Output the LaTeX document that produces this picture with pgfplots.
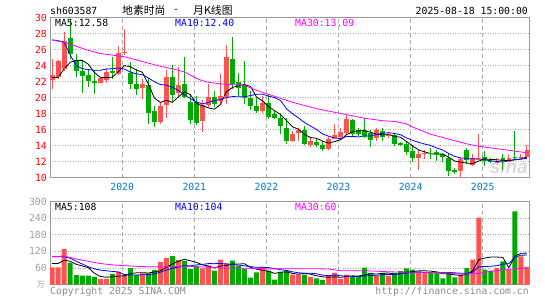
\documentclass[border=0pt]{standalone}
\usepackage{fontspec}
\usepackage{pgfplots}
\usepackage{pgfplotstable}
\pgfplotsset{compat=1.18}
\setmainfont{DejaVu Sans Mono}
\newfontfamily\cjk{Noto Sans CJK SC}
\newfontfamily\sinafont{Liberation Sans}

\definecolor{kred}{RGB}{255,82,82}
\definecolor{kgreen}{RGB}{0,170,0}
\definecolor{mablue}{RGB}{0,0,255}
\definecolor{mapink}{RGB}{255,0,255}
\definecolor{framec}{RGB}{153,153,153}
\definecolor{gridc}{RGB}{170,170,170}
\definecolor{yearc}{RGB}{0,122,204}
\definecolor{volc}{RGB}{160,160,160}
\newcommand\tf{\fontsize{9.8}{10}\selectfont}

% monthly candles, month 0 = 2019-01
\pgfplotstableread{
i O H L C
0 22.2 24.8 21.1 22.8
1 22.6 24.7 22.3 24.5
2 23.6 28.2 23.3 27.0
8 21.9 22.6 21.8 22.4
9 22.2 23.7 21.8 23.2
11 23.0 26.4 22.8 25.5
12 25.6 28.5 25.3 25.7
15 21.2 22.3 19.8 21.7
18 17.0 19.4 16.7 19.0
19 19.1 23.4 17.5 22.5
21 20.6 23.8 20.2 21.5
25 17.1 19.7 15.7 19.1
26 19.2 21.7 18.8 20.1
28 19.6 22.9 19.1 20.2
29 20.2 26.5 19.2 25.0
35 18.4 20.2 18.1 19.3
40 14.6 15.8 14.5 15.5
41 15.6 16.2 14.6 16.0
43 14.2 15.0 13.8 14.6
46 13.7 15.1 13.5 14.8
47 14.9 16.7 14.8 15.3
48 15.2 16.2 15.0 15.7
49 15.6 17.8 15.4 17.3
54 15.0 16.2 14.6 16.0
56 15.3 15.7 15.0 15.5
61 12.5 13.5 11.0 13.0
62 13.0 13.5 12.3 13.1
68 10.9 12.5 10.1 12.3
70 11.7 13.0 11.5 12.4
71 12.3 15.5 12.2 12.5
74 11.9 12.5 11.8 12.1
76 12.0 12.8 11.9 12.4
78 12.5 12.9 12.4 12.6
79 12.6 14.1 12.5 13.4
}\redk

\pgfplotstableread{
i O H L C
3 27.4 29.8 24.8 25.5
4 24.7 25.4 22.5 23.4
5 23.3 24.5 20.6 22.8
6 22.8 23.5 21.3 22.1
7 22.0 23.4 20.4 21.9
10 23.3 25.0 22.3 23.1
13 23.1 24.4 21.0 21.8
14 21.7 23.6 20.3 21.1
16 21.5 22.4 16.7 18.1
17 18.3 18.9 16.3 17.0
20 22.6 24.0 19.6 20.4
22 21.7 25.0 19.9 20.1
23 19.4 20.4 16.7 17.3
24 19.4 20.2 16.6 16.9
27 20.1 20.8 18.8 19.3
30 24.8 27.5 21.0 21.7
31 21.9 23.1 20.2 21.2
32 21.5 24.5 19.2 20.0
33 20.0 20.8 18.4 19.0
34 19.0 20.0 18.1 18.4
36 19.3 20.4 17.3 17.6
37 17.9 18.4 17.3 17.5
38 17.5 18.1 15.4 16.5
39 16.2 17.5 14.2 14.6
42 16.0 16.4 14.1 14.3
44 14.5 14.9 13.8 14.1
45 14.1 14.6 13.3 13.7
50 17.2 17.3 15.2 15.5
51 15.9 16.2 15.2 15.5
52 16.0 17.5 15.0 15.2
53 15.6 16.0 13.8 14.8
55 15.8 16.2 14.6 15.2
57 15.3 15.6 14.0 14.3
58 14.3 14.4 13.9 14.1
59 14.2 14.4 12.8 13.3
60 13.3 14.0 12.0 12.5
63 13.1 13.7 12.3 13.0
64 13.2 13.5 12.1 12.9
65 12.9 13.1 11.9 12.7
66 12.5 13.1 10.2 10.9
67 10.9 11.2 10.4 10.8
69 13.5 13.7 11.7 12.3
72 12.6 13.3 11.5 12.1
73 12.1 12.5 11.8 12.0
75 12.4 12.9 11.0 12.0
77 12.6 15.8 12.2 12.5
}\greenk

% price MA5 (a) and MA10 (b)
\pgfplotstableread{
i a b
0 22.5 27.2
1 22.5 27.1
2 23.6 26.9
3 24.4 25.3
4 24.64 24.0
5 24.64 23.6
6 24.16 23.5
7 23.14 23.4
8 22.52 23.4
9 22.48 23.56
10 22.54 23.59
11 23.22 23.69
12 23.98 23.56
13 23.86 23.19
14 23.44 22.96
15 23.16 22.85
16 21.68 22.45
17 19.94 21.96
18 19.38 21.62
19 19.66 21.55
20 19.40 21.28
21 20.08 20.88
22 20.70 20.32
23 20.36 19.87
24 19.24 19.45
25 18.98 19.19
26 18.70 19.39
27 18.54 19.62
28 19.12 19.74
29 20.74 19.99
30 21.26 20.12
31 21.48 20.09
32 21.62 20.08
33 21.38 20.25
34 20.06 20.40
35 19.58 20.42
36 18.86 20.17
37 18.36 19.99
38 17.86 19.62
39 17.10 18.58
40 16.34 17.96
41 16.02 17.44
42 15.38 16.87
43 15.00 16.43
44 14.90 16.00
45 14.54 15.44
46 14.30 15.16
47 14.50 14.94
48 14.72 14.86
49 15.36 15.13
50 15.72 15.13
51 15.86 15.08
52 15.84 15.17
53 15.66 15.19
54 15.40 15.38
55 15.34 15.53
56 15.34 15.60
57 15.16 15.50
58 15.02 15.34
59 14.48 14.94
60 13.94 14.64
61 13.44 14.39
62 13.20 14.18
63 12.98 14.00
64 12.90 13.69
65 12.94 13.44
66 12.52 12.98
67 12.06 12.63
68 11.92 12.45
69 11.80 12.35
70 11.74 12.34
71 12.06 12.29
72 12.32 12.19
73 12.26 12.09
74 12.22 12.01
75 12.14 11.94
76 12.12 12.09
77 12.20 12.26
78 12.32 12.29
79 12.58 12.40
}\mapx

% price MA30
\pgfplotstableread{
i c
0 27.2
2 26.9
4 26.4
6 25.9
8 25.5
10 25.3
12 25.1
14 24.7
16 24.3
18 23.9
20 23.6
21 23.4
22 23.2
23 22.8
24 22.4
25 22.1
26 21.9
28 21.7
30 21.6
32 21.5
34 20.9
36 20.4
38 19.9
40 19.4
42 19.0
44 18.6
46 18.3
48 18.0
50 17.7
52 17.4
53 17.3
55 17.1
57 17.0
59 16.7
60 16.3
61 16.0
63 15.4
65 15.0
67 14.6
69 14.2
71 13.9
73 13.7
75 13.5
77 13.3
79 13.09
}\mapy

% volume (10k shares)
\pgfplotstableread{
i v
0 62
1 62
2 128
8 20
9 20
11 45
12 34
15 40
18 81
19 96
21 89
25 58
26 68
28 90
29 76
35 64
40 36
41 36
43 28
46 30
47 42
48 20
49 36
54 30
56 32
61 44
62 44
68 32
70 90
71 242
74 60
76 54
78 102
79 64
}\redv

\pgfplotstableread{
i v
3 79
4 34
5 32
6 32
7 28
10 38
13 60
14 34
16 40
17 52
20 103
22 85
23 56
24 67
27 50
30 86
31 68
32 56
33 25
34 44
36 50
37 18
38 46
39 50
42 36
44 22
45 16
50 28
51 28
52 61
53 42
55 42
57 42
58 48
59 58
60 54
63 42
64 42
65 22
66 42
67 26
69 60
72 54
73 50
75 84
77 264
}\greenv

\pgfplotstableread{
i a b
0 76 100
1 76 100
2 88 100
3 84 95
4 73 84
5 67 74
6 61 64
7 41 57
8 29.2 52
9 26.4 49.7
10 27.6 47.3
11 30.2 45.6
12 31.4 36.2
13 39.4 34.3
14 42.2 34.3
15 42.6 35.1
16 41.6 35.9
17 45.2 38.3
18 49.4 44.4
19 61.8 52
20 74.4 58.5
21 84.2 62.9
22 90.8 68
23 85.8 67.6
24 80 70.9
25 71 72.7
26 66.8 75.5
27 59.8 75.3
28 66.6 76.2
29 68.4 74.2
30 74 72.5
31 74 70.4
32 75.2 67.5
33 62.2 64.4
34 55.8 62.1
35 51.4 62.7
36 47.8 60.9
37 40.2 57.7
38 44.4 53.3
39 45.6 50.7
40 40 45.7
41 37.2 42.5
42 40.8 40.5
43 37.2 40.8
44 31.6 38.6
45 27.6 33.8
46 26.4 31.8
47 27.6 34.2
48 26 31.6
49 28.8 30.2
50 31.2 29.4
51 30.8 28.6
52 34.6 31.1
53 39 32.5
54 37.8 33.3
55 40.6 35.9
56 41.4 36.1
57 37.6 36.1
58 38.8 38.9
59 44.4 41.1
60 46.8 43.7
61 49.2 45.3
62 49.6 43.6
63 48.4 43.6
64 45.2 44.8
65 38.8 42.8
66 38.4 43.8
67 34.8 42.2
68 32.8 40.6
69 36.4 40.8
70 50 44.4
71 90 64.2
72 95.6 65.2
73 99.2 66
74 99.2 67.8
75 98 74
76 60.4 75.2
77 102.4 99
78 112.8 106
79 113.6 106.4
}\mavx

\pgfplotstableread{
i c
0 100
2 103
4 92
6 84
8 76
10 71
12 68
14 66
16 64
18 64
20 65
22 66
24 64
26 63
28 60
30 60
32 59
34 58
36 56
38 57
40 57
42 57
44 57
46 56
48 50
50 50
52 50
54 48
56 46
58 45
60 44
62 44
64 43
66 42
68 37
70 38
71 40
72 44
73 48
74 50
75 53
76 55
77 57
78 59
79 60
}\mavy

\pgfplotsset{
  kpanel/.style={
    anchor=south west, scale only axis, width=479.3pt,
    xmin=-0.37, xmax=79.4,
    axis line style={framec, line width=1pt},
    major tick length=0pt,
    xtick={11.65,23.65,35.65,47.65,59.65,71.65},
    xmajorgrids, ymajorgrids,
    major grid style={gridc},
    every axis x grid/.style={dash pattern=on 4pt off 3pt, line width=0.8pt},
    every axis y grid/.style={dash pattern=on 1pt off 1.5pt, line width=0.7pt},
    ticklabel style={font=\tf, inner sep=0pt},
    yticklabel style={xshift=-3pt},
    /pgf/number format/assume math mode=true,
  },
  wick/.style={draw=none, mark=none,
    error bars/.cd, y dir=plus, y explicit, error mark=none,
    error bar style={draw=#1, line width=1pt}},
  body/.style={only marks, mark=-, mark size=2.35pt, color=#1,
    mark options={line width=0.8pt},
    error bars/.cd, y dir=plus, y explicit, error mark=none,
    error bar style={draw=#1, line width=4.7pt}},
}

\begin{document}
\begin{tikzpicture}
\path[use as bounding box, fill=white] (0,0) rectangle (545pt,300pt);

\node[anchor=south east, inner sep=0pt, text=gray!30,
  font=\sinafont\bfseries\itshape\fontsize{19}{19}\selectfont] at (528pt,126pt) {sina};

\begin{axis}[kpanel, at={(50pt,122.5pt)}, height=160pt,
  ymin=10, ymax=30, ytick={10,12,...,30},
  xticklabels={2020,2021,2022,2023,2024,2025},
  yticklabel style={text=red},
  xticklabel style={text=yearc, yshift=-5.5pt}]
\addplot[wick=kred] table[x=i, y=L, y error plus expr=\thisrow{H}-\thisrow{L}] {\redk};
\addplot[wick=kgreen] table[x=i, y=L, y error plus expr=\thisrow{H}-\thisrow{L}] {\greenk};
\addplot[body=kred] table[x=i, y=O, y error plus expr=\thisrow{C}-\thisrow{O}] {\redk};
\addplot[body=kgreen] table[x=i, y=C, y error plus expr=\thisrow{O}-\thisrow{C}] {\greenk};
\addplot[black, line width=0.8pt, mark=none] table[x=i, y=a] {\mapx};
\addplot[mablue, line width=0.8pt, mark=none] table[x=i, y=b] {\mapx};
\addplot[mapink, line width=0.8pt, mark=none] table[x=i, y=c] {\mapy};
\end{axis}

\begin{axis}[kpanel, at={(50pt,15.5pt)}, height=83pt,
  ymin=0, ymax=300, ytick={60,120,180,240,300},
  xticklabels={}, yticklabel style={text=volc}]
\addplot[ybar, bar width=5pt, bar shift=0pt, fill=kred, draw=none] table[x=i, y=v] {\redv};
\addplot[ybar, bar width=5pt, bar shift=0pt, fill=kgreen, draw=none] table[x=i, y=v] {\greenv};
\addplot[black, line width=0.8pt, mark=none] table[x=i, y=a] {\mavx};
\addplot[mablue, line width=0.8pt, mark=none] table[x=i, y=b] {\mavx};
\addplot[mapink, line width=0.8pt, mark=none] table[x=i, y=c] {\mavy};
\end{axis}

\begin{scope}[every node/.style={inner sep=0pt, font=\tf}]
\node[anchor=west] at (50pt,289pt) {sh603587};
\node[anchor=west, font=\cjk\fontsize{10.8}{11}\selectfont] at (122pt,289.5pt) {地素时尚};
\node at (176pt,289.5pt) {-};
\node[anchor=west, font=\cjk\fontsize{10.8}{11}\selectfont] at (193pt,289.5pt) {月K线图};
\node[anchor=east] at (528pt,289pt) {2025-08-18 15:00:00};
\node[anchor=west] at (55pt,277pt) {MA5:12.58};
\node[anchor=west, text=mablue] at (175pt,277pt) {MA10:12.40};
\node[anchor=west, text=mapink] at (295pt,277pt) {MA30:13.09};
\node[anchor=west] at (55pt,93.5pt) {MA5:108};
\node[anchor=west, text=mablue] at (175pt,93.5pt) {MA10:104};
\node[anchor=west, text=mapink] at (295pt,93.5pt) {MA30:60};
\node[anchor=east, text=volc, font=\cjk\fontsize{8}{8}\selectfont] at (45pt,15pt) {万};
\node[anchor=west, text=gray!90] at (50pt,8pt) {Copyright 2025 SINA.COM};
\node[anchor=east, text=gray!90] at (529pt,8pt) {http://finance.sina.com.cn};
\end{scope}
\end{tikzpicture}
\end{document}
